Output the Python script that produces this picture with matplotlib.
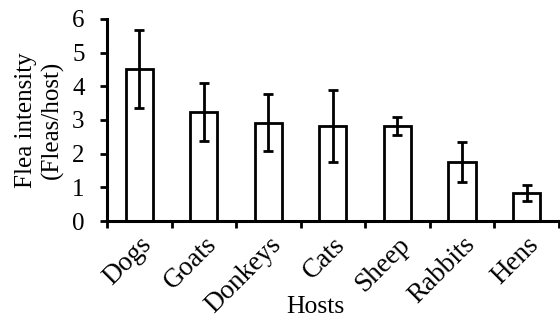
import matplotlib
matplotlib.use('Agg')
import matplotlib.pyplot as plt
import numpy as np

hosts = ['Dogs', 'Goats', 'Donkeys', 'Cats', 'Sheep', 'Rabbits', 'Hens']
intensity = [4.51, 3.25, 2.92, 2.82, 2.82, 1.76, 0.84]
err = [1.15, 0.86, 0.85, 1.08, 0.27, 0.59, 0.24]

plt.rcParams['font.family'] = ['Liberation Serif', 'DejaVu Serif']
fs = 18

fig = plt.figure(figsize=(5.6, 3.2), dpi=100)
ax = fig.add_axes([0.191, 0.309, 0.807, 0.632])

x = np.arange(len(hosts))
ax.bar(x, intensity, width=0.42, color='white', edgecolor='black', linewidth=2.0,
       yerr=err, error_kw=dict(ecolor='black', elinewidth=2.0, capsize=3.5, capthick=2.0))

ax.set_xlim(-0.5, len(hosts) - 0.5)
ax.set_ylim(0, 6)
ax.set_yticks(range(7))

# category labels centred, tick marks between categories
ax.set_xticks(x)
ax.set_xticklabels(hosts, rotation=45, ha='right', rotation_mode='anchor', fontsize=19.5)
ax.tick_params(axis='x', which='major', length=0, pad=8)
ax.set_xticks(np.arange(-0.5, len(hosts)), minor=True)
ax.tick_params(axis='x', which='minor', length=5, width=2, direction='out')
ax.tick_params(axis='y', length=5, width=2, direction='out', labelsize=fs, pad=11)

for s in ['top', 'right']:
    ax.spines[s].set_visible(False)
for s in ['left', 'bottom']:
    ax.spines[s].set_linewidth(2.2)

ax.set_ylabel('Flea intensity\n(Fleas/host)', fontsize=fs, linespacing=1.2, labelpad=6)
ax.set_xlabel('Hosts', fontsize=18.5, va='top')
ax.xaxis.set_label_coords(0.462, -0.37)

fig.savefig('out.png', dpi=100)
